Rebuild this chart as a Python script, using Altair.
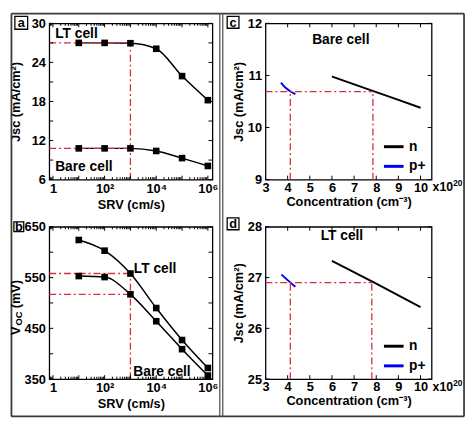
import altair as alt
import pandas as pd

FONT = "Liberation Sans, Arial, Helvetica, sans-serif"

# ---------------- data ----------------
srv = [10, 100, 1000, 1e4, 1e5, 1e6]
jsc_lt = [27.0, 27.0, 26.95, 26.1, 21.9, 18.2]
jsc_bare = [10.8, 10.8, 10.8, 10.4, 9.3, 8.1]
voc_lt = [624, 603, 558, 490, 427, 372]
voc_bare = [553, 551, 517, 464, 409, 357]

n_conc = [6.0, 8.0, 10.0]
n_jsc_bare = [10.98, 10.68, 10.38]
n_jsc_lt = [27.33, 26.88, 26.42]
p_conc_bare = [3.70, 3.80, 3.95, 4.10, 4.35]
p_jsc_bare = [10.86, 10.81, 10.75, 10.70, 10.64]
p_conc_lt = [3.72, 4.05, 4.35]
p_jsc_lt = [27.06, 26.93, 26.82]

srv_ticks = [1, 100, 10000, 1000000]
srv_tick_labels = ["1", "10\u00b2", "10\u2074", "10\u2076"]
conc_ticks = [3, 4, 5, 6, 7, 8, 9, 10]
jsc_a_ticks = [6, 12, 18, 24, 30]
voc_ticks = [350, 450, 550, 650]
jsc_c_ticks = [9, 10, 11, 12]
jsc_d_ticks = [25, 26, 27, 28]

# reference lines (dash-dot)
a_ref_y = [27.0, 10.8]
a_ref_x = 1000
b_ref_y = [558, 517]
b_ref_x = 1000
c_ref_y = 10.69
c_ref_x = [4.12, 7.85]
d_ref_y = 26.9
d_ref_x = [4.12, 7.8]

# ---------------- layout ----------------
WL, WR = 166, 169
HT, HB = 159, 155
SRV_DOM = [0.72, 1.5e6]
RED = "#d4303c"
DASH = [7, 3, 2, 3]

AX_STYLE = dict(labelFont=FONT, labelFontSize=13, labelFontWeight="bold", labelColor="black",
                titleFont=FONT, titleFontSize=13, titleFontWeight="bold", titleColor="black",
                ticks=False, domain=False, grid=False, labelFlush=False, labelOverlap=False)


def srv_label_expr():
    parts = []
    for v, lab in zip(srv_ticks[1:], srv_tick_labels[1:]):
        parts.append(f"datum.value == {int(v)} ? '{lab}' : ")
    return "datum.value == 1 ? '1' : " + "".join(parts) + "''"


def one():
    return pd.DataFrame({"d": [0]})


def tick_layers(xs_major, xs_minor, ys, X, Y, W, H):
    layers = []
    for vals, L in ((xs_major, 4), (xs_minor, 2.5)):
        if not vals:
            continue
        df = pd.DataFrame({"t": vals})
        for y0, y1 in ((H, H - L), (0, L)):
            layers.append(alt.Chart(df).mark_rule(color="black", strokeWidth=1).encode(
                x=X("t:Q"), y=alt.value(y0), y2=alt.value(y1)))
    df = pd.DataFrame({"t": ys})
    for x0, x1 in ((0, 4), (W, W - 4)):
        layers.append(alt.Chart(df).mark_rule(color="black", strokeWidth=1).encode(
            y=Y("t:Q"), x=alt.value(x0), x2=alt.value(x1)))
    return layers


def dash_layer(segs, X, Y):
    df = pd.DataFrame(segs, columns=["x1", "x2", "y1", "y2"])
    return alt.Chart(df).mark_rule(color=RED, strokeWidth=1.3, strokeDash=DASH).encode(
        x=X("x1:Q"), x2="x2:Q", y=Y("y1:Q"), y2="y2:Q")


def panel_label(letter, x0, y0, size=13):
    box = alt.Chart(one()).mark_rect(fill="white", stroke="black", strokeWidth=1.3).encode(
        x=alt.value(x0), x2=alt.value(x0 + size), y=alt.value(y0), y2=alt.value(y0 + size))
    txt = alt.Chart(one()).mark_text(font=FONT, fontSize=13, fontWeight="bold", color="black",
                                     align="center", baseline="middle").encode(
        x=alt.value(x0 + size / 2), y=alt.value(y0 + size / 2 + 0.5), text=alt.value(letter))
    return [box, txt]


def cell_text(rows, X, Y, align="left", size=14):
    df = pd.DataFrame(rows, columns=["x", "y", "label"])
    return alt.Chart(df).mark_text(font=FONT, fontSize=size, fontWeight="bold", color="black",
                                   align=align, baseline="middle").encode(
        x=X("x:Q"), y=Y("y:Q"), text="label:N")


def make_enc(channel, scale, axis):
    cls = alt.X if channel == "x" else alt.Y
    return lambda field: cls(field, scale=scale, axis=axis)


minor_srv = [k * 10 ** n for n in range(0, 6) for k in range(2, 10)] + [0.8, 0.9]
major_srv = [10 ** n for n in range(0, 7)]

sx_srv = alt.Scale(type="log", domain=SRV_DOM, nice=False)
ax_srv = alt.Axis(values=srv_ticks, labelExpr=srv_label_expr(), title="SRV (cm/s)",
                  labelPadding=3, titlePadding=3, **AX_STYLE)
X_srv = make_enc("x", sx_srv, ax_srv)

# ---------------- panel a ----------------
Y_a = make_enc("y", alt.Scale(domain=[6, 30], nice=False, zero=False),
               alt.Axis(values=jsc_a_ticks, title="Jsc (mA/cm\u00b2)", labelPadding=4,
                        titlePadding=9, **AX_STYLE))
df_a = pd.DataFrame({"srv": srv + srv, "val": jsc_lt + jsc_bare,
                     "cell": ["LT"] * len(srv) + ["Bare"] * len(srv)})
a_line = alt.Chart(df_a).mark_line(color="black", strokeWidth=1.5, interpolate="monotone").encode(
    x=X_srv("srv:Q"), y=Y_a("val:Q"), detail="cell:N")
a_pts = alt.Chart(df_a).mark_square(size=45, color="black", opacity=1).encode(
    x=X_srv("srv:Q"), y=Y_a("val:Q"))
a_dash = dash_layer([[SRV_DOM[0], a_ref_x, a_ref_y[0], a_ref_y[0]],
                     [SRV_DOM[0], a_ref_x, a_ref_y[1], a_ref_y[1]],
                     [a_ref_x, a_ref_x, 6, a_ref_y[0]]], X_srv, Y_a)
a_txt = cell_text([[1.22, 28.4, "LT cell"], [1.22, 8.0, "Bare cell"]], X_srv, Y_a)

# frame of the whole figure (pixel offsets from panel a's plot origin)
FR_L, FR_R, FR_T, FR_B = -38.5, 422, -10, 400
frame_segs = [(FR_L, FR_L, FR_T, FR_B), (FR_R, FR_R, FR_T, FR_B),
              (FR_L, FR_R, FR_T, FR_T), (FR_L, FR_R, FR_B, FR_B)]
frame = [alt.Chart(one()).mark_rule(color="#3a3a3a", strokeWidth=1.8).encode(
    x=alt.value(x0), x2=alt.value(x1), y=alt.value(y0), y2=alt.value(y1))
    for x0, x1, y0, y1 in frame_segs]
divider = [alt.Chart(one()).mark_rule(color="#555555", strokeWidth=1.3).encode(
    x=alt.value(xv), x2=alt.value(xv), y=alt.value(FR_T), y2=alt.value(FR_B)) for xv in (173.5, 176.5)]

panel_a = alt.layer(
    a_line, a_dash, a_pts, a_txt,
    *tick_layers(major_srv, minor_srv, list(range(6, 31, 3)), X_srv, Y_a, WL, HT),
    *panel_label("a", -35, -7),
    *frame, *divider,
).properties(width=WL, height=HT)

# ---------------- panel b ----------------
Y_b = make_enc("y", alt.Scale(domain=[350, 650], nice=False, zero=False),
               alt.Axis(values=voc_ticks, title=None, labelPadding=4, **AX_STYLE))
df_b = pd.DataFrame({"srv": srv + srv, "val": voc_lt + voc_bare,
                     "cell": ["LT"] * len(srv) + ["Bare"] * len(srv)})
b_line = alt.Chart(df_b).mark_line(color="black", strokeWidth=1.5, interpolate="monotone").encode(
    x=X_srv("srv:Q"), y=Y_b("val:Q"), detail="cell:N")
b_pts = alt.Chart(df_b).mark_square(size=45, color="black", opacity=1).encode(
    x=X_srv("srv:Q"), y=Y_b("val:Q"))
b_dash = dash_layer([[SRV_DOM[0], b_ref_x, b_ref_y[0], b_ref_y[0]],
                     [SRV_DOM[0], b_ref_x, b_ref_y[1], b_ref_y[1]],
                     [b_ref_x, b_ref_x, 350, b_ref_y[0]]], X_srv, Y_b)
b_txt = cell_text([[1350, 566, "LT cell"], [1300, 363, "Bare cell"]], X_srv, Y_b)


def rot_text(txt, x, y, size):
    return alt.Chart(one()).mark_text(font=FONT, fontSize=size, fontWeight="bold", color="black",
                                      angle=270, align="left", baseline="middle").encode(
        x=alt.value(x), y=alt.value(y), text=alt.value(txt))


TY = 110  # start (bottom) of the rotated V_OC title
b_title = [rot_text("V", -34, TY, 13), rot_text("OC", -31, TY - 9.5, 9.5),
           rot_text("(mV)", -34, TY - 27, 13)]

panel_b = alt.layer(
    b_line, b_dash, b_pts, b_txt, *b_title,
    *tick_layers(major_srv, minor_srv, list(range(350, 651, 50)), X_srv, Y_b, WL, HB),
    *panel_label("b", -36, -5, size=10),
).properties(width=WL, height=HB)

# ---------------- panels c & d ----------------
sx_c = alt.Scale(domain=[3, 10.5], nice=False, zero=False)
ax_c = alt.Axis(values=conc_ticks, title="Concentration (cm\u207b\u00b3)",
                labelPadding=2, titlePadding=1, **AX_STYLE)
X_c = make_enc("x", sx_c, ax_c)
color_sc = alt.Scale(domain=["n", "p+"], range=["black", "#0000ee"])


def conc_panel(nx, ny, px, py, ydom, yticks, ref_y, ref_x, label, lab_xy, letter, H, ly):
    Y = make_enc("y", alt.Scale(domain=ydom, nice=False, zero=False),
                 alt.Axis(values=yticks, title="Jsc (mA/cm\u00b2)", labelPadding=4,
                          titlePadding=2, **AX_STYLE))
    df = pd.DataFrame({"conc": nx + px, "jsc": ny + py,
                       "series": ["n"] * len(nx) + ["p+"] * len(px)})
    lines = alt.Chart(df).mark_line(strokeWidth=2, interpolate="monotone").encode(
        x=X_c("conc:Q"), y=Y("jsc:Q"),
        color=alt.Color("series:N", scale=color_sc, legend=alt.Legend(
            orient="bottom-right", title=None, symbolType="stroke", symbolStrokeWidth=3,
            symbolSize=400, labelFont=FONT, labelFontSize=14, labelFontWeight="bold",
            labelColor="black", offset=6, rowPadding=1, labelOffset=4, padding=0)))
    dash = dash_layer([[3, ref_x[1], ref_y, ref_y],
                       [ref_x[0], ref_x[0], ydom[0], ref_y],
                       [ref_x[1], ref_x[1], ydom[0], ref_y]], X_c, Y)
    txt = cell_text([[lab_xy[0], lab_xy[1], label]], X_c, Y, align="center")
    mult = alt.Chart(one()).mark_text(font=FONT, fontSize=12.5, fontWeight="bold", color="black",
                                      align="left", baseline="top").encode(
        x=alt.value(WR + 1), y=alt.value(H + 2), text=alt.value("x10"))
    mult_exp = alt.Chart(one()).mark_text(font=FONT, fontSize=8.5, fontWeight="bold", color="black",
                                          align="left", baseline="top").encode(
        x=alt.value(WR + 22), y=alt.value(H), text=alt.value("20"))
    return alt.layer(
        lines, dash, txt, mult, mult_exp,
        *tick_layers(conc_ticks, [], yticks, X_c, Y, WR, H),
        *panel_label(letter, -39, ly, size=12),
    ).properties(width=WR, height=H)


panel_c = conc_panel(n_conc, n_jsc_bare, p_conc_bare, p_jsc_bare, [9, 12], jsc_c_ticks,
                     c_ref_y, c_ref_x, "Bare cell", (6.4, 11.67), "c", HT, -7)
panel_d = conc_panel(n_conc, n_jsc_lt, p_conc_lt, p_jsc_lt, [25, 28], jsc_d_ticks,
                     d_ref_y, d_ref_x, "LT cell", (6.45, 27.82), "d", HB, -9)

chart = alt.concat(
    panel_a, panel_c, panel_b, panel_d, columns=2,
    spacing={"row": 48, "column": 54}, bounds="flush", align="each",
).resolve_scale(
    x="independent", y="independent", color="independent"
).resolve_legend(color="independent").properties(
    padding=0, background="white"
).configure_view(
    stroke="black", strokeWidth=1.3
)

chart.save("out.html", embed_options={"renderer": "svg", "actions": False})
